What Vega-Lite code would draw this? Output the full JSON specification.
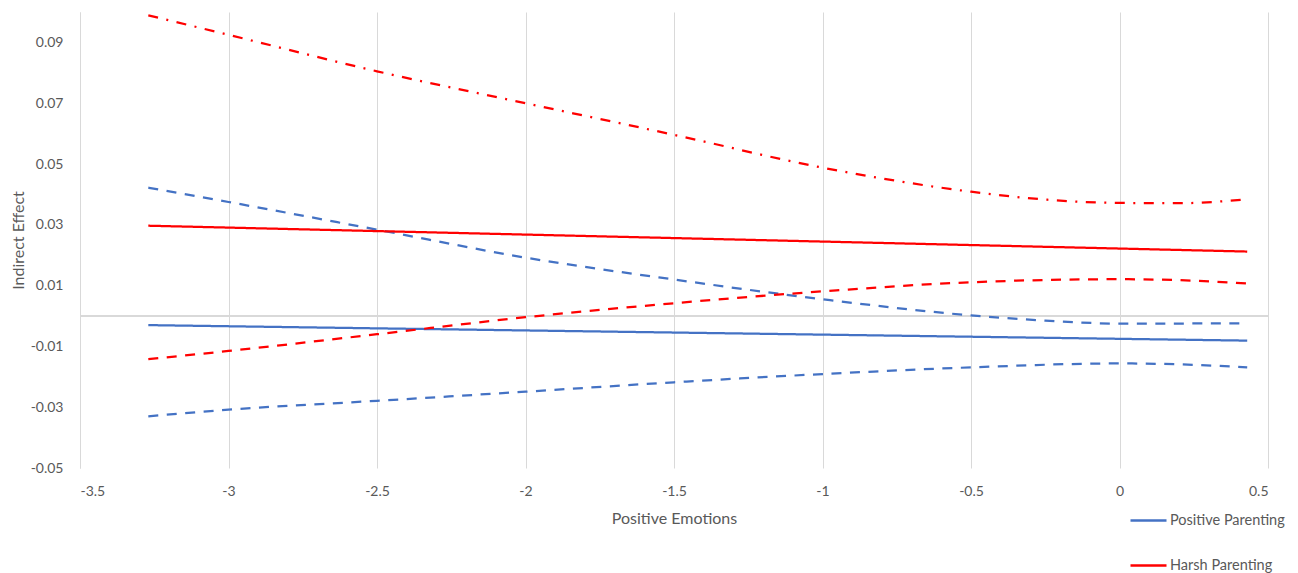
{
  "$schema": "https://vega.github.io/schema/vega-lite/v6.json",
  "autosize": "none",
  "padding": {"left": 80, "top": 12, "right": 30, "bottom": 105},
  "width": 1188,
  "height": 456,
  "config": {
    "view": {"stroke": null},
    "font": "Lato",
    "axis": {"labelFont": "Lato", "titleFont": "Lato", "labelColor": "#595959", "titleColor": "#595959", "labelFontSize": 14, "titleFontSize": 16, "titleFontWeight": "normal"},
    "legend": {"labelFont": "Lato", "labelColor": "#595959", "labelFontSize": 14.5}
  },
  "data": {
    "values": [
      {"x": -3.27, "y": -0.0030, "group": "Positive Parenting", "line": "PP est", "style": "solid"},
      {"x": 0.43, "y": -0.0081, "group": "Positive Parenting", "line": "PP est", "style": "solid"},

      {"x": -3.27, "y": 0.0422, "group": "Positive Parenting", "line": "PP upper", "style": "dashed"},
      {"x": -3.0, "y": 0.0375, "group": "Positive Parenting", "line": "PP upper", "style": "dashed"},
      {"x": -2.5, "y": 0.0284, "group": "Positive Parenting", "line": "PP upper", "style": "dashed"},
      {"x": -2.0, "y": 0.0192, "group": "Positive Parenting", "line": "PP upper", "style": "dashed"},
      {"x": -1.5, "y": 0.0120, "group": "Positive Parenting", "line": "PP upper", "style": "dashed"},
      {"x": -1.0, "y": 0.0055, "group": "Positive Parenting", "line": "PP upper", "style": "dashed"},
      {"x": -0.5, "y": 0.0002, "group": "Positive Parenting", "line": "PP upper", "style": "dashed"},
      {"x": -0.25, "y": -0.0015, "group": "Positive Parenting", "line": "PP upper", "style": "dashed"},
      {"x": 0.0, "y": -0.0025, "group": "Positive Parenting", "line": "PP upper", "style": "dashed"},
      {"x": 0.43, "y": -0.0024, "group": "Positive Parenting", "line": "PP upper", "style": "dashed"},

      {"x": -3.27, "y": -0.0330, "group": "Positive Parenting", "line": "PP lower", "style": "dashed"},
      {"x": -3.0, "y": -0.0308, "group": "Positive Parenting", "line": "PP lower", "style": "dashed"},
      {"x": -2.5, "y": -0.0279, "group": "Positive Parenting", "line": "PP lower", "style": "dashed"},
      {"x": -2.0, "y": -0.0249, "group": "Positive Parenting", "line": "PP lower", "style": "dashed"},
      {"x": -1.5, "y": -0.0218, "group": "Positive Parenting", "line": "PP lower", "style": "dashed"},
      {"x": -1.0, "y": -0.0191, "group": "Positive Parenting", "line": "PP lower", "style": "dashed"},
      {"x": -0.5, "y": -0.0169, "group": "Positive Parenting", "line": "PP lower", "style": "dashed"},
      {"x": 0.0, "y": -0.0156, "group": "Positive Parenting", "line": "PP lower", "style": "dashed"},
      {"x": 0.2, "y": -0.0159, "group": "Positive Parenting", "line": "PP lower", "style": "dashed"},
      {"x": 0.43, "y": -0.0169, "group": "Positive Parenting", "line": "PP lower", "style": "dashed"},

      {"x": -3.27, "y": 0.0297, "group": "Harsh Parenting", "line": "HP est", "style": "solid"},
      {"x": 0.43, "y": 0.0212, "group": "Harsh Parenting", "line": "HP est", "style": "solid"},

      {"x": -3.27, "y": 0.0989, "group": "Harsh Parenting", "line": "HP upper", "style": "dashdot"},
      {"x": -3.0, "y": 0.0925, "group": "Harsh Parenting", "line": "HP upper", "style": "dashdot"},
      {"x": -2.5, "y": 0.0805, "group": "Harsh Parenting", "line": "HP upper", "style": "dashdot"},
      {"x": -2.0, "y": 0.0700, "group": "Harsh Parenting", "line": "HP upper", "style": "dashdot"},
      {"x": -1.5, "y": 0.0596, "group": "Harsh Parenting", "line": "HP upper", "style": "dashdot"},
      {"x": -1.0, "y": 0.0488, "group": "Harsh Parenting", "line": "HP upper", "style": "dashdot"},
      {"x": -0.5, "y": 0.0409, "group": "Harsh Parenting", "line": "HP upper", "style": "dashdot"},
      {"x": -0.25, "y": 0.0383, "group": "Harsh Parenting", "line": "HP upper", "style": "dashdot"},
      {"x": 0.0, "y": 0.0372, "group": "Harsh Parenting", "line": "HP upper", "style": "dashdot"},
      {"x": 0.2, "y": 0.0371, "group": "Harsh Parenting", "line": "HP upper", "style": "dashdot"},
      {"x": 0.43, "y": 0.0384, "group": "Harsh Parenting", "line": "HP upper", "style": "dashdot"},

      {"x": -3.27, "y": -0.0142, "group": "Harsh Parenting", "line": "HP lower", "style": "dashed"},
      {"x": -3.0, "y": -0.0115, "group": "Harsh Parenting", "line": "HP lower", "style": "dashed"},
      {"x": -2.5, "y": -0.0060, "group": "Harsh Parenting", "line": "HP lower", "style": "dashed"},
      {"x": -2.0, "y": -0.0004, "group": "Harsh Parenting", "line": "HP lower", "style": "dashed"},
      {"x": -1.5, "y": 0.0042, "group": "Harsh Parenting", "line": "HP lower", "style": "dashed"},
      {"x": -1.0, "y": 0.0081, "group": "Harsh Parenting", "line": "HP lower", "style": "dashed"},
      {"x": -0.5, "y": 0.0111, "group": "Harsh Parenting", "line": "HP lower", "style": "dashed"},
      {"x": 0.0, "y": 0.0121, "group": "Harsh Parenting", "line": "HP lower", "style": "dashed"},
      {"x": 0.2, "y": 0.0118, "group": "Harsh Parenting", "line": "HP lower", "style": "dashed"},
      {"x": 0.43, "y": 0.0107, "group": "Harsh Parenting", "line": "HP lower", "style": "dashed"}
    ]
  },
  "layer": [
    {
      "mark": {"type": "rule", "color": "#d9d9d9", "strokeWidth": 1.5},
      "encoding": {"y": {"datum": 0, "type": "quantitative", "scale": {"domain": [-0.05, 0.1], "nice": false, "zero": false}}}
    },
    {
      "mark": {"type": "line", "interpolate": "monotone", "strokeWidth": 2.25},
      "encoding": {
        "x": {
          "field": "x", "type": "quantitative",
          "scale": {"domain": [-3.5, 0.5], "nice": false, "zero": false},
          "axis": {
            "values": [-3.5, -3, -2.5, -2, -1.5, -1, -0.5, 0, 0.5],
            "labelExpr": "toString(datum.value)",
            "domain": false, "ticks": false,
            "grid": true, "gridColor": "#d9d9d9", "gridWidth": 1,
            "labelPadding": 16,
            "title": "Positive Emotions",
            "titleY": 50, "titleBaseline": "middle"
          }
        },
        "y": {
          "field": "y", "type": "quantitative",
          "scale": {"domain": [-0.05, 0.1], "nice": false, "zero": false},
          "axis": {
            "values": [-0.05, -0.03, -0.01, 0.01, 0.03, 0.05, 0.07, 0.09],
            "labelExpr": "toString(datum.value)",
            "domain": true, "domainColor": "#d9d9d9", "domainWidth": 1,
            "ticks": false, "grid": false,
            "labelPadding": 17,
            "title": "Indirect Effect",
            "titleX": -62, "titleY": 228, "titleBaseline": "middle", "titleAngle": -90, "titleAlign": "center"
          }
        },
        "color": {
          "field": "group", "type": "nominal",
          "scale": {"domain": ["Positive Parenting", "Harsh Parenting"], "range": ["#4472C4", "#FF0000"]},
          "legend": {
            "title": null, "orient": "none", "legendX": 1049, "legendY": 489,
            "symbolType": "stroke", "symbolSize": 1296, "symbolStrokeWidth": 2.5,
            "rowPadding": 19, "labelOffset": 2, "direction": "vertical"
          }
        },
        "strokeDash": {
          "field": "style", "type": "nominal",
          "scale": {"domain": ["solid", "dashed", "dashdot"], "range": [[1, 0], [10, 8.5], [10, 8.5, 2, 8.5]]},
          "legend": null
        },
        "detail": {"field": "line", "type": "nominal"}
      }
    }
  ]
}
